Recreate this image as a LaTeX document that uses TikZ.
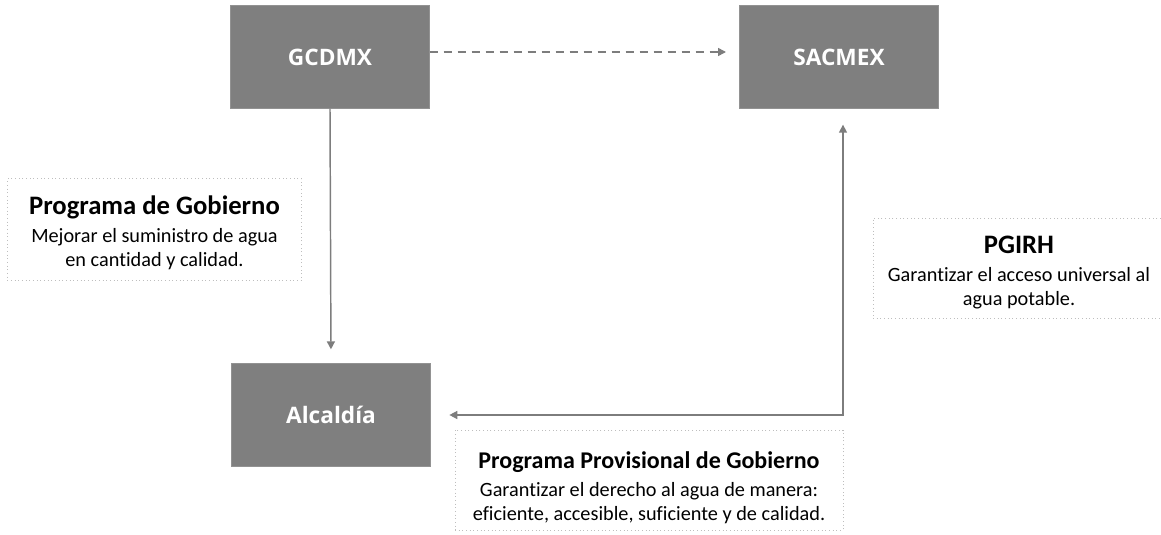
\documentclass[tikz,border=0pt]{standalone}
\usepackage{fontspec}
\setmainfont{Carlito}[Ligatures=NoCommon]
\newfontfamily\blkfont{Open Sans}
\usetikzlibrary{arrows.meta}

\definecolor{boxgray}{RGB}{127,127,127}
\definecolor{linegray}{RGB}{125,125,125}
\definecolor{dotgray}{RGB}{190,190,190}

\tikzset{
	blk/.style={fill=boxgray, draw=boxgray!85!white, line width=0.5pt, minimum width=149pt, minimum height=77pt, inner sep=0pt, text=white, font=\blkfont\fontsize{17}{20}\selectfont\bfseries},
	note/.style={draw=dotgray, dotted, line width=0.75pt, inner sep=0pt},
	notetxt/.style={align=center, inner sep=0pt, font=\fontsize{15.2}{18}\selectfont},
	flow/.style={draw=linegray, line width=1.1pt, -{Triangle[width=6pt,length=6pt]}}
}
\newcommand{\ttl}[2][20]{{\fontsize{#1}{21}\selectfont\bfseries #2}\\[3pt]}

\begin{document}
\begin{tikzpicture}[x=0.75pt,y=0.75pt,yscale=-1,xscale=1]
	\useasboundingbox (0,0) rectangle (1161,535); %size of the reference

	% Blocks
	\node[blk] (gcdmx) at (330,57) {GCDMX};
	\node[blk] (sacmex) at (839,57) {SACMEX};
	\node[blk] (alcaldia) at (331,415) {Alcaldía};

	% Notes
	\node[note, minimum width=221pt, minimum height=76pt] (progob) at (154.5,229.5) {};
	\node[notetxt] (progobtxt) at ([yshift=2.6pt]progob.center) {\ttl{Programa de Gobierno}Mejorar el suministro de agua\\en cantidad y calidad.};
	\node[note, minimum width=219pt, minimum height=75pt] (pgirh) at (1019,268) {};
	\node[notetxt] (pgirhtxt) at ([yshift=3.4pt]pgirh.center) {\ttl{PGIRH}Garantizar el acceso universal al\\agua potable.};
	\node[note, minimum width=291pt, minimum height=75pt] (provgob) at (649,480) {};
	\node[notetxt] (provgobtxt) at ([yshift=5.6pt]provgob.center) {\ttl[18]{Programa Provisional de Gobierno}Garantizar el derecho al agua de manera:\\eficiente, accesible, suficiente y de calidad.};

	% Connectors
	\coordinate (crn) at (843,415);
	\draw[flow, dashed, dash pattern=on 6pt off 4.5pt, shorten >=10pt] ([yshift=-3.75pt]gcdmx.east) -- ([yshift=-3.75pt]sacmex.west);
	\draw[flow, shorten >=10.5pt] (gcdmx.south) -- (alcaldia.north);
	\draw[flow, {Triangle[width=6pt,length=6pt]}-{Triangle[width=6pt,length=6pt]}, shorten <=12pt, shorten >=14pt] (sacmex.south -| crn) -- (crn) -- (alcaldia.east);

\end{tikzpicture}
\end{document}
